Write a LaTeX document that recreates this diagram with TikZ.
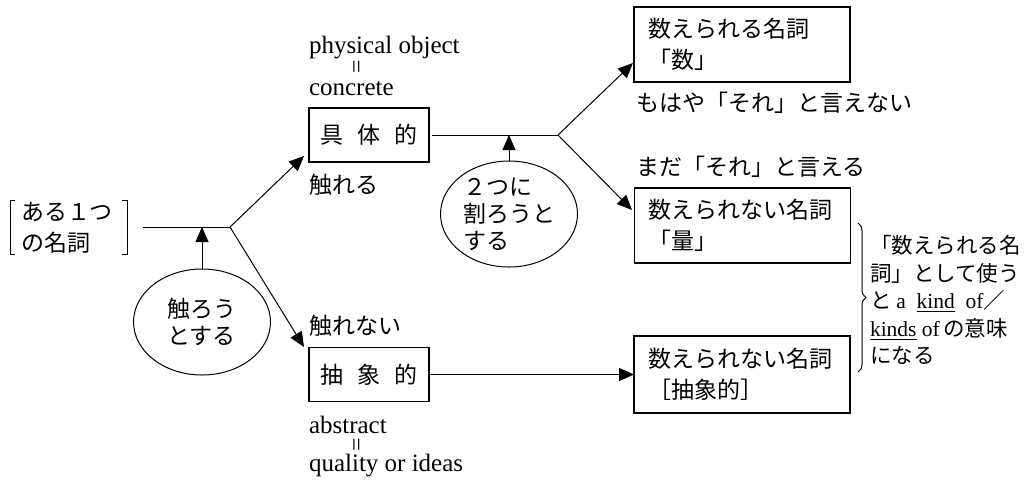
\documentclass[tikz,border=0pt]{standalone}
\usepackage{fontspec}
\setmainfont{Noto Sans CJK JP}
\newfontfamily\lat{Liberation Serif}
\usetikzlibrary{arrows.meta,shapes.geometric,decorations.pathreplacing}
\begin{document}
\begin{tikzpicture}[x=0.5pt,y=-0.5pt,
  every node/.style={inner sep=0pt, outer sep=0pt, font=\fontsize{11.5}{15.5}\selectfont},
  conn/.style={line width=0.5pt},
  arr/.style={conn, -{Triangle[length=7.5pt,width=6.5pt]}},
  kbox/.style={draw, line width=0.6pt, minimum width=60pt, minimum height=27pt},
  nbox/.style={draw, line width=0.6pt, minimum width=108pt, minimum height=37.5pt, text width=94pt, inner xsep=7pt, align=left},
  oval/.style={draw, ellipse, line width=0.5pt, minimum width=68.5pt, minimum height=53pt, align=left, font=\fontsize{11.5}{13.5}\selectfont},
  lbl/.style={anchor=west},
  eng/.style={anchor=west, font=\lat\fontsize{12.5}{14}\selectfont},
  eq/.style={rotate=90, font=\lat\fontsize{12}{13}\selectfont}
]
\useasboundingbox (0,0) rectangle (1029,479);

% bracketed start
\node[anchor=west, align=left] (aru) at (21,227.5) {ある１つ\\の名詞};
\draw[conn] (15,200) -- (10,200) -- (10,254) -- (15,254);
\draw[conn] (122,200) -- (127,200) -- (127,254) -- (122,254);

% boxes
\node[kbox] (kutai) at (369,135) {具\hspace{0.6em}体\hspace{0.6em}的};
\node[kbox] (chusho) at (369,374.5) {抽\hspace{0.6em}象\hspace{0.6em}的};
\node[nbox] (n1) at (742,44.5) {数えられる名詞\\「数」};
\node[nbox] (n2) at (742.5,225.5) {数えられない名詞\\「量」};
\node[nbox, minimum height=38.5pt] (n3) at (742,374.5) {数えられない名詞\\［抽象的］};

% ellipses
\node[oval] (e1) at (202,322) {触ろう\\とする};
\node[oval] (e2) at (509,214) {２つに\\割ろうと\\する};

% labels
\node[eng] (po) at (309,48) {physical object};
\node[eq] (eq1) at (359,67) {=};
\node[eng] (con) at (309,89) {concrete};
\node[lbl] (fureru) at (309,185) {触れる};
\node[lbl] (furenai) at (309,326) {触れない};
\node[eng] (abs) at (309,425) {abstract};
\node[eq] (eq2) at (359,445) {=};
\node[eng] (qual) at (309,466) {quality or ideas};
\node[lbl] (mohaya) at (636,103) {もはや「それ」と言えない};
\node[lbl] (mada) at (636,167) {まだ「それ」と言える};

% note at right
\node[anchor=west, align=left, font=\fontsize{10.75}{13.75}\selectfont] (note) at (870,300)
  {「数えられる名\\詞」として使う\\と\ {\lat a\ \ \underline{kind}\ \ of}／\\{\lat\underline{kinds}\ of}\,の意味\\になる};
\draw[conn, decorate, decoration={brace, amplitude=4pt}] (858,223) -- (858,372);

% connectors
\coordinate (L0) at (143,227);
\coordinate (J1) at (230,227);
\coordinate (J2) at (558,135);
\coordinate (T1) at (304,156);
\coordinate (T2) at (304,347);
\coordinate (A1) at (202,227);
\coordinate (A2) at (509,135);
\coordinate (T3) at (633,63);
\coordinate (T4) at (632,210);

\draw[conn] (L0) -- (J1);
\draw[arr] (J1) -- (T1);
\draw[arr] (J1) -- (T2);
\draw[arr] (e1.north) -- (A1);
\draw[conn, shorten <=1.5pt] (kutai.east) -- (J2);
\draw[arr] (J2) -- (T3);
\draw[arr] (J2) -- (T4);
\draw[arr] (e2.north) -- (A2);
\draw[arr] (chusho.east) -- (n3.west);
\end{tikzpicture}
\end{document}
